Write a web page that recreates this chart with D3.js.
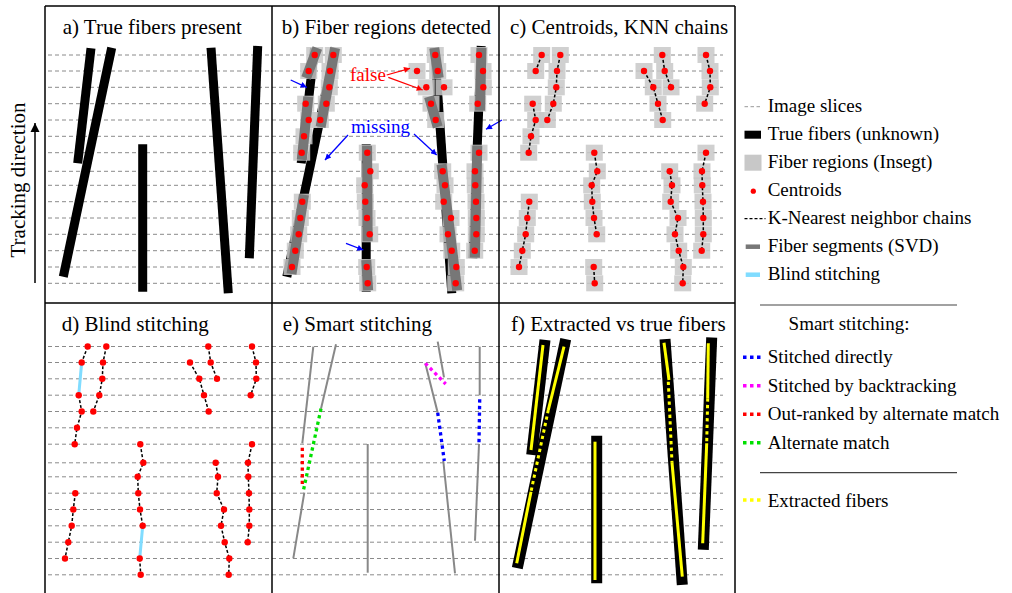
<!DOCTYPE html>
<html>
<head>
<meta charset="utf-8">
<script src="https://cdn.jsdelivr.net/npm/d3@7"></script>
<style>
  body { margin: 0; background: #fff; }
  svg { display: block; }
</style>
</head>
<body>
<script>
// slice positions (px from panel row top)
var slicesY = [55, 71, 87.3, 103.7, 120, 136.3, 152.7, 171.3, 185.3, 201.7, 218, 234.3, 250.7, 267, 283.3];

// panel titles
var titles = ["a) True fibers present", "b) Fiber regions detected", "c) Centroids, KNN chains",
              "d) Blind stitching", "e) Smart stitching", "f) Extracted vs true fibers"];

// true fibers: [top, bottom] as [x, y]
var fibers = [
  [[46, 48.3], [32.7, 163.3]],
  [[66.7, 47.7], [18.3, 276.7]],
  [[97.7, 144.3], [97.7, 291.7]],
  [[166, 47.7], [183.3, 293.3]],
  [[212.7, 46], [204.3, 258.3]]
];

// KNN chains of centroids: first slice index and x per slice
var chainIds   = ["A", "B", "C", "D", "E", "F", "G", "H", "I", "J", "K"];
var chainFirst = [0, 0, 3, 9, 6, 13, 1, 0, 0, 7, 6];
var chainX = [
  [42.7, 36.7],
  [61.3, 58, 57.3, 54.3, 48.3],
  [33.7, 36.7, 32, 29.7],
  [30.3, 28.3, 26.7, 23.3, 20],
  [95.3, 98.3, 92.7, 93.3, 95, 97.7],
  [94.7, 95.7],
  [145, 154.3, 159, 163.7],
  [163.3, 165.7, 172],
  [207, 211, 211.3, 205.7],
  [170.7, 173, 171.7, 179, 176, 179.7, 184.3, 183.7],
  [207, 203, 203.3, 204, 204.3, 204.3, 202.7]
];

// fiber segments (SVD) in panel b: chain, from slice, to slice
var segChain = ["A", "B", "C", "D", "E", "F", "G", "H", "I", "J", "K"];
var segFrom  = [0, 0, 3, 9, 6, 13, 3, 0, 0, 7, 6];
var segTo    = [1, 4, 6, 13, 11, 14, 4, 1, 3, 14, 12];

// blind stitching links: [chain, slice] -> [chain, slice]
var blindLinks = [[["A", 1], ["C", 3]], [["E", 11], ["F", 13]]];

// panel b annotations
var missingArrows = [[[18.7, 80], [34.7, 87.3]], [[76, 135], [53, 160]], [[142, 134], [164.7, 155]],
                     [[230, 120], [214, 129.3]], [[74, 243.3], [91.3, 250]]];
var falseArrows = [[[114.7, 75], [138, 68.3]], [[116.3, 77.3], [150.7, 90]]];

// panel e: fitted segments and stitches
var smartSegments = [
  [[41.3, 55.2], [30.3, 151.8]],
  [[64, 52.8], [49, 117.2]],
  [[32.3, 201.2], [21.3, 266.8]],
  [[95.7, 152.5], [95.7, 281.2]],
  [[165.7, 50.2], [172, 85.8]],
  [[153.3, 71.8], [165.7, 121.2]],
  [[171.3, 169.5], [183, 281.8]],
  [[207.7, 55.2], [207.7, 103.8]],
  [[207, 152.5], [203, 249.2]]
];
var stitchDirect    = [[[165.7, 121.2], [172.3, 169.5]], [[207.7, 107.8], [207, 151.2]]];
var stitchBacktrack = [[[153.3, 71.8], [173.7, 92.5]]];
var stitchOutranked = [[[30.3, 156.2], [30.3, 195.2]]];
var stitchAlternate = [[[49, 117.2], [31.3, 199.5]]];

// panel f: extracted fibers
var extractedSolid = [
  [[44, 53.5], [32, 158.5]],
  [[65, 55.2], [49.3, 118.5]],
  [[32, 200.2], [17.7, 271.8]],
  [[96, 150.2], [96, 288.5]],
  [[165, 51.2], [170, 88.5]],
  [[173, 171.2], [183.3, 285.2]],
  [[209.3, 51.8], [208.7, 106.8]],
  [[207.7, 151.8], [203.7, 251.8]]
];
var extractedDotted = [
  [[49.3, 118.5], [32, 200.2]],
  [[169.3, 90.2], [173, 171.2]],
  [[208.7, 106.8], [207.7, 151.8]]
];

// legend
var legendTop = ["Image slices", "True fibers (unknown)", "Fiber regions (Insegt)", "Centroids",
                 "K-Nearest neighbor chains", "Fiber segments (SVD)", "Blind stitching"];
var legendSmart = ["Stitched directly", "Stitched by backtracking", "Out-ranked by alternate match", "Alternate match"];
var legendSmartColors = ["#0000ff", "#ff00ff", "#ff0000", "#00e000"];

// ---- layout ----
var W = 1012, H = 593;
var cols = [45, 272, 499], colRight = 735;
var rowY = [0, 291.5];
var borderY = [6, 303];
var titleDx = [17.7, 9.7, 11, 16.7, 10.7, 12];
var fiberShiftB = -3.5;
var cyan = "#80dcff", segGrey = "#777777", boxGrey = "#c8c8c8";
var serif = "'Liberation Serif', 'Times New Roman', Tinos, 'DejaVu Serif', serif";

var svg = d3.select("body").append("svg")
    .attr("width", W).attr("height", H)
    .attr("font-family", serif);
var defs = svg.append("defs");

function arrowMarker(id, color, w, h) {
  defs.append("marker")
      .attr("id", id)
      .attr("viewBox", "0 0 10 10")
      .attr("refX", 10).attr("refY", 5)
      .attr("markerUnits", "userSpaceOnUse")
      .attr("markerWidth", w).attr("markerHeight", h)
      .attr("orient", "auto")
    .append("path")
      .attr("d", "M0,0 L10,5 L0,10 z")
      .attr("fill", color);
}
arrowMarker("ah-blue", "#0000ff", 9, 6);
arrowMarker("ah-red", "#ff0000", 9, 6);
arrowMarker("ah-black", "#000", 9, 11);

function panelScales(c, r, dx) {
  var x0 = cols[c] + (dx || 0);
  return {
    x: d3.scaleLinear().domain([0, 100]).range([x0, x0 + 100]),
    y: d3.scaleLinear().domain([0, 100]).range([rowY[r], rowY[r] + 100])
  };
}

function chainPoints(i) {
  return chainX[i].map(function(x, k) { return {s: chainFirst[i] + k, x: x}; });
}
function chainAt(id, s) {
  var i = chainIds.indexOf(id);
  return [chainX[i][s - chainFirst[i]], slicesY[s]];
}

// image slices
rowY.forEach(function(ry) {
  svg.append("g").selectAll("line")
      .data(slicesY)
      .enter().append("line")
      .attr("x1", 48).attr("x2", 723)
      .attr("y1", function(d) { return ry + d; })
      .attr("y2", function(d) { return ry + d; })
      .attr("stroke", "#8a8a8a")
      .attr("stroke-width", 1)
      .attr("stroke-dasharray", "4,3");
});

function drawLines(g, sc, data, color, width, dash) {
  var line = d3.line().x(function(p) { return sc.x(p[0]); }).y(function(p) { return sc.y(p[1]); });
  g.append("g").selectAll("path")
      .data(data)
      .enter().append("path")
      .attr("d", line)
      .attr("fill", "none")
      .attr("stroke", color)
      .attr("stroke-width", width)
      .attr("stroke-dasharray", dash || null);
}

function drawBoxes(g, sc) {
  chainIds.forEach(function(id, i) {
    g.append("g").selectAll("rect")
        .data(chainPoints(i))
        .enter().append("rect")
        .attr("x", function(d) { return sc.x(d.x) - 8.5; })
        .attr("y", function(d) { return sc.y(slicesY[d.s]) - 8; })
        .attr("width", 17).attr("height", 16)
        .attr("fill", boxGrey)
        .attr("fill-opacity", 0.85);
  });
}

function drawChains(g, sc) {
  var line = d3.line().x(function(d) { return sc.x(d.x); }).y(function(d) { return sc.y(slicesY[d.s]); });
  chainIds.forEach(function(id, i) {
    g.append("path")
        .attr("d", line(chainPoints(i)))
        .attr("fill", "none")
        .attr("stroke", "#000")
        .attr("stroke-width", 1.5)
        .attr("stroke-dasharray", "3,2");
  });
}

function drawDots(g, sc) {
  chainIds.forEach(function(id, i) {
    g.append("g").selectAll("circle")
        .data(chainPoints(i))
        .enter().append("circle")
        .attr("cx", function(d) { return sc.x(d.x); })
        .attr("cy", function(d) { return sc.y(slicesY[d.s]); })
        .attr("r", 3.2)
        .attr("fill", "#ff0000");
  });
}

// a) true fibers
(function() {
  var sc = panelScales(0, 0), g = svg.append("g");
  drawLines(g, sc, fibers, "#000", 9);
})();

// b) fiber regions detected
(function() {
  var sc = panelScales(1, 0), g = svg.append("g");
  drawLines(g, panelScales(1, 0, fiberShiftB), fibers, "#000", 9);
  drawBoxes(g, sc);
  // SVD segments: least-squares x(y) through chain centroids
  var segs = segChain.map(function(id, k) {
    var i = chainIds.indexOf(id);
    var pts = chainPoints(i).filter(function(d) { return d.s >= segFrom[k] && d.s <= segTo[k]; });
    var my = d3.mean(pts, function(d) { return slicesY[d.s]; });
    var mx = d3.mean(pts, function(d) { return d.x; });
    var num = d3.sum(pts, function(d) { return (slicesY[d.s] - my) * (d.x - mx); });
    var den = d3.sum(pts, function(d) { return (slicesY[d.s] - my) * (slicesY[d.s] - my); });
    var b = den ? num / den : 0;
    var y1 = slicesY[segFrom[k]] - 7, y2 = slicesY[segTo[k]] + 7;
    return [[mx + b * (y1 - my), y1], [mx + b * (y2 - my), y2]];
  });
  drawLines(g, sc, segs, segGrey, 10);
  drawDots(g, sc);

  var line = d3.line().x(function(p) { return sc.x(p[0]); }).y(function(p) { return sc.y(p[1]); });
  g.append("g").selectAll("path")
      .data(missingArrows)
      .enter().append("path")
      .attr("d", line)
      .attr("stroke", "#0000ff").attr("stroke-width", 1.3)
      .attr("marker-end", "url(#ah-blue)");
  g.append("g").selectAll("path")
      .data(falseArrows)
      .enter().append("path")
      .attr("d", line)
      .attr("stroke", "#ff0000").attr("stroke-width", 1.3)
      .attr("marker-end", "url(#ah-red)");
  g.append("text")
      .attr("x", sc.x(78)).attr("y", sc.y(80.7))
      .attr("fill", "#ff0000").style("font-size", "19px")
      .text("false");
  g.append("text")
      .attr("x", sc.x(79)).attr("y", sc.y(133.3))
      .attr("fill", "#0000ff").style("font-size", "19px")
      .text("missing");
})();

// c) centroids, KNN chains
(function() {
  var sc = panelScales(2, 0), g = svg.append("g");
  drawBoxes(g, sc);
  drawChains(g, sc);
  drawDots(g, sc);
})();

// d) blind stitching
(function() {
  var sc = panelScales(0, 1), g = svg.append("g");
  drawChains(g, sc);
  var links = blindLinks.map(function(l) { return [chainAt(l[0][0], l[0][1]), chainAt(l[1][0], l[1][1])]; });
  drawLines(g, sc, links, cyan, 3);
  drawDots(g, sc);
})();

// e) smart stitching
(function() {
  var sc = panelScales(1, 1), g = svg.append("g");
  drawLines(g, sc, smartSegments, "#888", 2);
  drawLines(g, sc, stitchOutranked, legendSmartColors[2], 3.3, "3.3,3.3");
  drawLines(g, sc, stitchAlternate, legendSmartColors[3], 3.3, "3.3,3.3");
  drawLines(g, sc, stitchBacktrack, legendSmartColors[1], 3.3, "3.3,3.3");
  drawLines(g, sc, stitchDirect, legendSmartColors[0], 3.3, "3.3,3.3");
})();

// f) extracted vs true fibers
(function() {
  var sc = panelScales(2, 1), g = svg.append("g");
  drawLines(g, sc, fibers, "#000", 11);
  drawLines(g, sc, extractedSolid, "#ffff00", 3);
  drawLines(g, sc, extractedDotted, "#ffff00", 3, "3.3,3.3");
})();

// titles
titles.forEach(function(t, i) {
  var c = i % 3, r = Math.floor(i / 3);
  svg.append("text")
      .attr("x", cols[c] + titleDx[i])
      .attr("y", borderY[r] + 27.5)
      .style("font-size", "21px")
      .text(t);
});

// panel borders
var borders = svg.append("g").attr("stroke", "#000").attr("stroke-width", 1.5);
cols.concat([colRight]).forEach(function(x) {
  borders.append("line").attr("x1", x).attr("x2", x).attr("y1", borderY[0]).attr("y2", H);
});
borderY.forEach(function(y) {
  borders.append("line").attr("x1", cols[0]).attr("x2", colRight).attr("y1", y).attr("y2", y);
});

// tracking direction
svg.append("text")
    .attr("transform", "translate(25,180) rotate(-90)")
    .attr("text-anchor", "middle")
    .style("font-size", "21px")
    .text("Tracking direction");
svg.append("line")
    .attr("x1", 35).attr("x2", 35).attr("y1", 283).attr("y2", 123)
    .attr("stroke", "#000").attr("stroke-width", 1.5)
    .attr("marker-end", "url(#ah-black)");

// legend
var lg = svg.append("g");
var lx = 767.7, mx0 = 744.5, mx1 = 760.5;
legendTop.forEach(function(t, i) {
  var by = 111.7 + i * 28, cy = by - 5;
  lg.append("text").attr("x", lx).attr("y", by).style("font-size", "19px").text(t);
  if (i === 0) {
    lg.append("line").attr("x1", mx0).attr("x2", mx1).attr("y1", cy).attr("y2", cy)
      .attr("stroke", "#999").attr("stroke-dasharray", "3.5,2.5");
  } else if (i === 1) {
    lg.append("rect").attr("x", mx0).attr("y", cy - 4).attr("width", 16.5).attr("height", 8).attr("fill", "#000");
  } else if (i === 2) {
    lg.append("rect").attr("x", mx0).attr("y", cy - 8).attr("width", 17).attr("height", 16).attr("fill", boxGrey);
  } else if (i === 3) {
    lg.append("circle").attr("cx", 753.3).attr("cy", cy + 0.5).attr("r", 2.6).attr("fill", "#ff0000");
  } else if (i === 4) {
    lg.append("line").attr("x1", mx0).attr("x2", 765.5).attr("y1", cy).attr("y2", cy)
      .attr("stroke", "#000").attr("stroke-width", 1.3).attr("stroke-dasharray", "3,2");
  } else if (i === 5) {
    lg.append("line").attr("x1", 745.7).attr("x2", 760).attr("y1", cy).attr("y2", cy)
      .attr("stroke", segGrey).attr("stroke-width", 4.5);
  } else {
    lg.append("line").attr("x1", 745.7).attr("x2", 760).attr("y1", cy).attr("y2", cy)
      .attr("stroke", cyan).attr("stroke-width", 4.5);
  }
});
[305, 472.7].forEach(function(y) {
  lg.append("line").attr("x1", 760).attr("x2", 957).attr("y1", y).attr("y2", y)
    .attr("stroke", "#444").attr("stroke-width", 1.2);
});
lg.append("text").attr("x", 849).attr("y", 330).attr("text-anchor", "middle")
  .style("font-size", "19px").text("Smart stitching:");
function dottedKey(y, color) {
  lg.append("line").attr("x1", 743).attr("x2", 764).attr("y1", y).attr("y2", y)
    .attr("stroke", color).attr("stroke-width", 3.5).attr("stroke-dasharray", "3.5,3.5");
}
legendSmart.forEach(function(t, i) {
  var by = 363.3 + i * 28.5;
  lg.append("text").attr("x", lx).attr("y", by).style("font-size", "19px").text(t);
  dottedKey(by - 6, legendSmartColors[i]);
});
lg.append("text").attr("x", lx).attr("y", 506.7).style("font-size", "19px").text("Extracted fibers");
dottedKey(500, "#ffff00");
</script>
</body>
</html>
